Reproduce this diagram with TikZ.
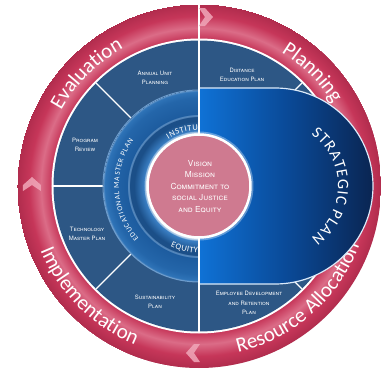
\documentclass[tikz,border=0pt]{standalone}
\usepackage{fontspec}
\usetikzlibrary{decorations.text,positioning}
\newfontfamily\ringfont{Carlito}
\newfontfamily\labelfont{TeX Gyre Heros}

\definecolor{ringmid}{HTML}{C63659}
\definecolor{ringlight}{HTML}{DB6C87}
\definecolor{ringdark}{HTML}{B02C4D}
\definecolor{segblue}{HTML}{2D5785}
\definecolor{bluehalo}{HTML}{3A7FC4}
\definecolor{bluedeep}{HTML}{1B4F88}
\definecolor{blueline}{HTML}{6E9DCD}
\definecolor{bluering}{HTML}{1D5C9F}
\definecolor{bluemidring}{HTML}{2466AA}
\definecolor{blueedge}{HTML}{2F74B8}
\definecolor{corepink}{HTML}{CF7A90}
\definecolor{planleft}{HTML}{0F72D6}
\definecolor{planmid}{HTML}{0A4A98}
\definecolor{planright}{HTML}{0A2552}
\definecolor{chevpink}{HTML}{F0A7B9}

\pgfdeclareradialshading{ringshade}{\pgfpoint{0bp}{0bp}}{color(0bp)=(ringmid); color(147bp)=(ringmid); color(158bp)=(ringlight); color(170bp)=(ringmid); color(182bp)=(ringdark)}
\pgfdeclareradialshading{innershade}{\pgfpoint{0bp}{0bp}}{color(0bp)=(white); color(51bp)=(white); color(55bp)=(bluehalo); color(65bp)=(bluedeep); color(69bp)=(bluedeep); color(70.5bp)=(blueline); color(72bp)=(bluering); color(88bp)=(bluemidring); color(94.5bp)=(blueedge); color(96bp)=(blueline)}

\tikzset{
  segline/.style={white, line width=1.4},
  seglabel/.style={text=white, align=center, inner sep=0pt,
    font=\labelfont\scshape\fontsize{6}{9.5}\selectfont},
  corelabel/.style={text=white, align=center, inner sep=0pt,
    font=\labelfont\scshape\fontsize{8.3}{11.5}\selectfont},
  ringword/.style={decorate, decoration={text along path, text align=center,
    text={|\ringfont\fontsize{21}{21}\selectfont\color{white}|#1}}},
  bandword/.style 2 args={decorate, decoration={text along path, text align={fit to path},
    text={|\ringfont\fontsize{#1}{#1}\selectfont\color{white}|#2}}},
  chevron/.style={fill=chevpink, opacity=.85},
}

\begin{document}
\begin{tikzpicture}[x=1bp, y=1bp]
\useasboundingbox[fill=white] (-199,-187) rectangle (189,186);

% outer ring
\begin{scope}
  \clip (0,0) circle (182);
  \node[inner sep=0pt] (ringfill) at (0,0) {\pgfuseshading{ringshade}};
\end{scope}
\draw[white, line width=1.6] (90:145) -- (90:183);
\fill[white] (0,0) circle (147.5);
\fill[segblue] (0,0) circle (145.5);
\foreach \a in {45,135,180,225,315}
  \draw[segline] (\a:96) -- (\a:146);

% middle rings
\begin{scope}
  \clip (0,0) circle (96);
  \node[inner sep=0pt] (innerfill) at (0,0) {\pgfuseshading{innershade}};
\end{scope}
\draw[blueline, line width=1] (0,0) circle (96);

% plan labels
\node[seglabel] (annual) at (-44,108) {Annual Unit\\Planning};
\node[seglabel] (distance) at (43,111) {Distance\\Education Plan};
\node[seglabel] (review) at (-114,41) {Program\\Review};
\node[seglabel] (techplan) at (-112,-48) {Technology\\Master Plan};
\node[seglabel] (sustain) at (-44,-116) {Sustainability\\Plan};
\node[seglabel] (employee) at (50,-117) {Employee Development\\and Retention\\Plan};

% ring texts
\path[bandword={7.5}{EDUCATIONAL MASTER PLAN}] (221:80) arc[start angle=221, end angle=145, radius=80];
\path[bandword={8.5}{INSTITU}] (123:56) arc[start angle=123, end angle=91, radius=56];
\path[bandword={8.5}{EQUITY}] (245:67) arc[start angle=245, end angle=269, radius=67];

\path[ringword=Evaluation] (175:157) arc[start angle=175, end angle=95, radius=157];
\path[ringword=Planning] (85:157) arc[start angle=85, end angle=5, radius=157];
\path[ringword=Implementation] (180:171) arc[start angle=180, end angle=270, radius=171];
\path[ringword=Resource Allocation] (266:171) arc[start angle=266, end angle=357, radius=171];

% strategic plan
\shadedraw[left color=planleft, right color=planright, middle color=planmid,
  draw=white!85!planleft, line width=1.2]
  (0,98) -- (76,98) arc[start angle=90, end angle=-90, radius=98] -- (0,-98) -- cycle;
\draw[segline] (0,146) -- (0,-146);
\path[bandword={16}{STRATEGIC PLAN}] ([shift={(76,0)}]55:63) arc[start angle=55, end angle=-55, radius=63];

% core
\fill[white, opacity=.35] (0,0) circle (54.5);
\fill[corepink] (0,0) circle (50.5);
\draw[white, line width=2.5] (0,0) circle (51.5);
\node[corelabel] (vision) at (1,17) {Vision\\Mission};
\node[corelabel, below=5bp of vision] (commit) {Commitment to\\social Justice\\and Equity};

% arrows on the ring
\foreach \x/\y/\r in {7/169/0, -167/2/90, -6/-167/180}
  \fill[chevron, shift={(\x,\y)}, rotate=\r] (-7,9) -- (-1,9) -- (7,0) -- (-1,-9) -- (-7,-9) -- (-1,0) -- cycle;
\end{tikzpicture}
\end{document}
